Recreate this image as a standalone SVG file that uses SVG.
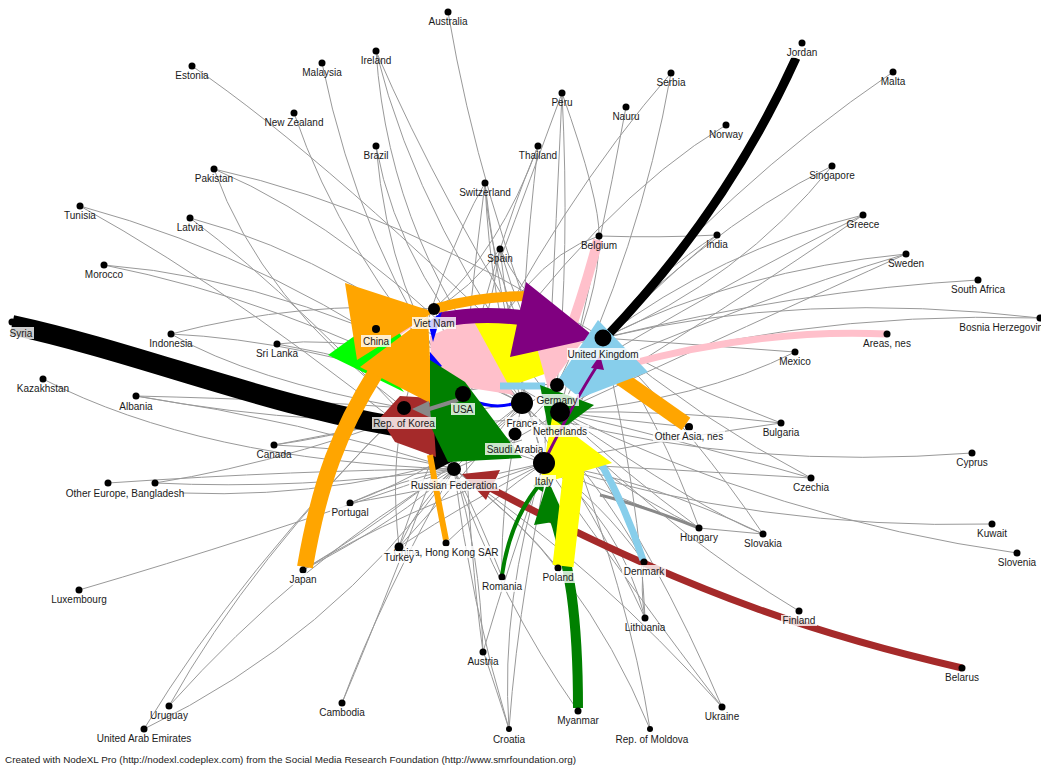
<svg xmlns="http://www.w3.org/2000/svg" width="1041" height="767" viewBox="0 0 1041 767">
<style>
.e{fill:none;stroke:#999;stroke-width:1}
.b{fill:none;stroke-linecap:butt}
.d{fill:#000}
.lb{font-family:"Liberation Sans",Arial,sans-serif;font-size:10px;fill:#1a1a1a;text-anchor:middle}
.bg{fill:#fff;fill-opacity:.8}
.ft{font-family:"Liberation Sans",Arial,sans-serif;font-size:9.9px;fill:#1a1a1a}
</style>
<rect width="1041" height="767" fill="#fff"/>
<g id="connectors">
<g id="gray-edges">
<path class="e" d="M448,12 Q480,200 557,385"/>
<path class="e" d="M376,51 Q390,250 522,403"/>
<path class="e" d="M376,51 Q420,230 560,412"/>
<path class="e" d="M376,51 Q440,200 557,385"/>
<path class="e" d="M322,63 Q360,250 463,394"/>
<path class="e" d="M192,66 Q330,160 557,385"/>
<path class="e" d="M294,113 Q340,250 463,394"/>
<path class="e" d="M376,146 Q390,300 463,394"/>
<path class="e" d="M376,146 Q400,280 522,403"/>
<path class="e" d="M214,169 Q400,210 603,338"/>
<path class="e" d="M214,169 Q360,230 522,403"/>
<path class="e" d="M214,169 Q260,300 404,408"/>
<path class="e" d="M485,183 Q490,300 522,403"/>
<path class="e" d="M485,183 Q470,300 463,394"/>
<path class="e" d="M485,183 Q500,320 544,463"/>
<path class="e" d="M485,183 Q440,260 404,408"/>
<path class="e" d="M485,183 Q492,300 557,385"/>
<path class="e" d="M80,206 Q280,260 463,394"/>
<path class="e" d="M80,206 Q250,300 454,469"/>
<path class="e" d="M190,218 Q350,260 522,403"/>
<path class="e" d="M190,218 Q300,300 454,469"/>
<path class="e" d="M500,249 Q520,320 557,385"/>
<path class="e" d="M500,249 Q490,320 463,394"/>
<path class="e" d="M500,249 Q540,330 603,338"/>
<path class="e" d="M500,249 Q510,350 544,463"/>
<path class="e" d="M500,249 Q470,290 434,309"/>
<path class="e" d="M104,265 Q300,280 522,403"/>
<path class="e" d="M104,265 Q280,300 463,394"/>
<path class="e" d="M671,73 Q560,200 463,394"/>
<path class="e" d="M671,73 Q640,250 560,412"/>
<path class="e" d="M893,72 Q720,190 603,338"/>
<path class="e" d="M562,93 Q570,250 557,385"/>
<path class="e" d="M562,93 Q555,250 544,463"/>
<path class="e" d="M562,93 Q530,180 500,260"/>
<path class="e" d="M562,93 Q600,200 599,236"/>
<path class="e" d="M626,107 Q600,250 560,412"/>
<path class="e" d="M726,125 Q600,200 463,394"/>
<path class="e" d="M538,146 Q500,250 434,309"/>
<path class="e" d="M538,146 Q490,260 463,394"/>
<path class="e" d="M538,146 Q520,300 522,403"/>
<path class="e" d="M832,166 Q700,230 557,385"/>
<path class="e" d="M832,166 Q740,280 603,338"/>
<path class="e" d="M863,215 Q720,250 603,338"/>
<path class="e" d="M863,215 Q730,280 557,385"/>
<path class="e" d="M863,215 Q740,300 560,412"/>
<path class="e" d="M717,235 Q660,270 603,338"/>
<path class="e" d="M717,235 Q640,300 557,385"/>
<path class="e" d="M599,236 Q600,300 557,385"/>
<path class="e" d="M599,236 Q660,238 717,235"/>
<path class="e" d="M599,236 Q520,260 463,394"/>
<path class="e" d="M906,254 Q740,270 603,338"/>
<path class="e" d="M906,254 Q750,300 557,385"/>
<path class="e" d="M906,254 Q760,320 560,412"/>
<path class="e" d="M978,280 Q800,290 603,338"/>
<path class="e" d="M1040,318 Q800,290 603,338"/>
<path class="e" d="M1040,318 Q780,310 557,385"/>
<path class="e" d="M795,352 Q700,345 603,338"/>
<path class="e" d="M795,352 Q700,400 560,412"/>
<path class="e" d="M689,427 Q620,420 560,412"/>
<path class="e" d="M781,423 Q680,410 560,412"/>
<path class="e" d="M781,423 Q670,380 603,338"/>
<path class="e" d="M781,423 Q660,440 544,463"/>
<path class="e" d="M972,453 Q750,470 557,420"/>
<path class="e" d="M811,478 Q680,440 560,412"/>
<path class="e" d="M811,478 Q680,470 544,463"/>
<path class="e" d="M811,478 Q700,420 603,338"/>
<path class="e" d="M992,524 Q760,530 544,463"/>
<path class="e" d="M1017,553 Q780,520 560,412"/>
<path class="e" d="M699,528 Q620,470 560,412"/>
<path class="e" d="M699,528 Q620,500 544,463"/>
<path class="e" d="M699,528 Q660,420 603,338"/>
<path class="e" d="M699,528 Q600,480 522,403"/>
<path class="e" d="M699,528 L763,534"/>
<path d="M699,528 Q640,505 600,495" fill="none" stroke="#888" stroke-width="3"/>
<path class="e" d="M763,534 Q700,440 603,338"/>
<path class="e" d="M763,534 Q650,480 544,463"/>
<path class="e" d="M763,534 Q700,510 560,412"/>
<path class="e" d="M644,562 Q600,500 544,463"/>
<path class="e" d="M644,562 Q600,480 522,403"/>
<path class="e" d="M799,611 Q680,540 557,420"/>
<path class="e" d="M645,618 Q620,520 544,463"/>
<path class="e" d="M645,618 Q600,520 522,403"/>
<path class="e" d="M645,618 Q640,500 603,338"/>
<path class="e" d="M645,618 Q640,590 644,562"/>
<path class="e" d="M722,707 Q640,600 544,463"/>
<path class="e" d="M722,707 Q660,560 560,412"/>
<path class="e" d="M722,707 Q600,570 454,469"/>
<path class="e" d="M650,729 Q630,600 560,412"/>
<path class="e" d="M650,729 Q580,560 454,469"/>
<path class="e" d="M578,711 Q500,600 454,469"/>
<path class="e" d="M509,729 Q500,600 544,463"/>
<path class="e" d="M509,729 Q470,600 454,469"/>
<path class="e" d="M509,729 Q520,580 560,412"/>
<path class="e" d="M509,729 Q480,640 483,652"/>
<path class="e" d="M483,652 Q480,550 454,469"/>
<path class="e" d="M483,652 Q510,560 544,463"/>
<path class="e" d="M483,652 Q470,560 463,394"/>
<path class="e" d="M502,577 Q480,520 454,469"/>
<path class="e" d="M502,577 Q500,500 522,403"/>
<path class="e" d="M558,568 Q520,520 454,469"/>
<path class="e" d="M342,703 Q380,600 454,469"/>
<path class="e" d="M342,703 Q390,590 463,394"/>
<path class="e" d="M169,706 Q250,560 404,408"/>
<path class="e" d="M169,706 Q300,560 454,469"/>
<path class="e" d="M144,729 Q240,570 404,408"/>
<path class="e" d="M144,729 Q330,640 454,469"/>
<path class="e" d="M79,590 Q250,540 454,469"/>
<path class="e" d="M303,570 Q400,520 454,469"/>
<path class="e" d="M303,570 Q420,500 522,403"/>
<path class="e" d="M303,570 Q400,510 544,463"/>
<path class="e" d="M350,503 Q400,480 454,469"/>
<path class="e" d="M350,503 Q440,470 522,403"/>
<path class="e" d="M350,503 Q430,490 544,463"/>
<path class="e" d="M399,547 Q420,500 454,469"/>
<path class="e" d="M399,547 Q460,480 522,403"/>
<path class="e" d="M399,547 Q470,500 544,463"/>
<path class="e" d="M399,547 Q420,480 463,394"/>
<path class="e" d="M399,547 Q390,470 404,408"/>
<path class="e" d="M446,543 Q490,500 544,463"/>
<path class="e" d="M108,483 Q300,470 454,469"/>
<path class="e" d="M155,483 Q300,460 463,394"/>
<path class="e" d="M155,483 Q300,490 454,469"/>
<path class="e" d="M182,493 Q350,500 522,440"/>
<path class="e" d="M274,445 Q380,430 463,394"/>
<path class="e" d="M274,445 Q380,450 454,469"/>
<path class="e" d="M274,445 Q400,420 522,403"/>
<path class="e" d="M136,396 Q300,420 454,469"/>
<path class="e" d="M136,396 Q300,400 404,408"/>
<path class="e" d="M136,396 Q320,430 522,420"/>
<path class="e" d="M43,379 Q200,460 454,469"/>
<path class="e" d="M171,334 Q300,300 434,309"/>
<path class="e" d="M171,334 Q300,340 463,394"/>
<path class="e" d="M171,334 Q250,380 404,408"/>
<path class="e" d="M277,344 Q370,360 463,394"/>
<path class="e" d="M277,344 Q380,330 522,403"/>
<path class="e" d="M463,394 Q530,350 603,338"/>
<path class="e" d="M404,408 Q480,380 557,385"/>
<path class="e" d="M454,469 Q500,420 557,385"/>
<path class="e" d="M434,309 Q520,330 603,338"/>
<path class="e" d="M376,329 Q480,360 560,412"/>
<path class="e" d="M404,408 Q470,440 544,463"/>
<path class="e" d="M454,469 Q500,450 560,412"/>
<path class="e" d="M515,434 Q560,390 603,338"/>
<path class="e" d="M463,394 Q500,440 544,463"/>
<path class="e" d="M376,329 Q420,380 454,469"/>
<path class="e" d="M434,309 Q470,380 454,469"/>
<path class="e" d="M603,338 Q590,400 544,463"/>
<path class="e" d="M434,309 Q500,360 522,403"/>
</g>
<g id="colored-edges">
<path class="b" d="M12,325 C150,355 280,412 432,432" stroke="#000" stroke-width="20"/>
<polygon points="428,400 430,473 494,440" fill="#000"/>
<path class="b" d="M796,58 Q726,212 607,336" stroke="#000" stroke-width="9"/>
<polygon points="380,418 400,396 432,398 436,457 395,442" fill="#a52a2a"/>
<path class="b" d="M962,668 C840,640 700,600 490,488" stroke="#a52a2a" stroke-width="7"/>
<polygon points="462,474 500,470 486,500" fill="#a52a2a"/>
<path class="b" d="M887,334 Q760,328 622,366" stroke="#ffc0cb" stroke-width="7"/>
<path class="b" d="M598,240 Q585,290 565,345" stroke="#ffc0cb" stroke-width="10"/>
<polygon points="445,325 530,310 550,372 505,388 470,355" fill="#ffff00"/>
<polygon points="532,330 582,342 548,388" fill="#ffc0cb"/>
<polygon points="472,318 514,395 432,382 430,336" fill="#ffc0cb"/>
<path class="b" d="M420,318 L395,336" stroke="#ffc0cb" stroke-width="5"/>
<polygon points="328,355 360,332 404,392" fill="#00ff00"/>
<path class="b" d="M400,334 L362,360" stroke="#00ff00" stroke-width="9"/>
<path class="b" d="M686,424 L612,372" stroke="#ffa500" stroke-width="15"/>
<path class="b" d="M305,567 C320,480 340,430 376,372" stroke="#ffa500" stroke-width="16"/>
<polygon points="428,316 360,367 432,404" fill="#ffa500"/>
<polygon points="345,283 434,312 357,360" fill="#ffa500"/>
<path class="b" d="M438,308 Q480,296 528,296" stroke="#ffa500" stroke-width="10"/>
<path class="b" d="M446,540 Q438,500 430,455" stroke="#ffa500" stroke-width="6"/>
<path class="b" d="M440,320 Q480,312 525,318" stroke="#800080" stroke-width="15"/>
<polygon points="526,282 510,357 596,338" fill="#800080"/>
<polygon points="598,320 648,372 580,398 558,380" fill="#87ceeb"/>
<path class="b" d="M500,386 L545,386" stroke="#87ceeb" stroke-width="7"/>
<path class="b" d="M643,560 Q625,505 598,458" stroke="#87ceeb" stroke-width="7"/>
<polygon points="428,322 442,312 433,342" fill="#0000ff"/>
<polygon points="430,352 442,366 430,374" fill="#0000ff"/>
<path class="b" d="M470,400 Q495,410 515,403" stroke="#0000ff" stroke-width="3"/>
<polygon points="430,360 465,382 522,458 448,462 430,425" fill="#008000"/>
<polygon points="540,385 594,405 550,438" fill="#008000"/>
<path class="b" d="M578,708 C578,620 570,560 550,505" stroke="#008000" stroke-width="10"/>
<polygon points="548,480 534,525 566,520" fill="#008000"/>
<path class="b" d="M502,575 Q510,520 540,484" stroke="#008000" stroke-width="4"/>
<polygon points="545,476 533,486 543,492" fill="#008000"/>
<path class="b" d="M563,566 L574,470" stroke="#ffff00" stroke-width="21"/>
<polygon points="552,418 612,463 540,484" fill="#ffff00"/>
<path class="b" d="M546,458 Q575,400 597,366" stroke="#800080" stroke-width="3"/>
<polygon points="600,355 591,368 604,370" fill="#800080"/>
<path class="b" d="M458,400 L426,410" stroke="#888" stroke-width="4"/>
<polygon points="412,409 429,401 431,418" fill="#888"/>
</g>
</g>
<g id="nodes">
<g id="n-australia"><circle class="d" cx="448" cy="12" r="3.5"/><text class="lb" x="448" y="25">Australia</text></g>
<g id="n-ireland"><circle class="d" cx="376" cy="51" r="3.5"/><text class="lb" x="376" y="64">Ireland</text></g>
<g id="n-malaysia"><circle class="d" cx="322" cy="63" r="3.5"/><text class="lb" x="322" y="76">Malaysia</text></g>
<g id="n-estonia"><circle class="d" cx="192" cy="66" r="3.5"/><text class="lb" x="192" y="79">Estonia</text></g>
<g id="n-newzealand"><circle class="d" cx="294" cy="113" r="3.5"/><text class="lb" x="294" y="126">New Zealand</text></g>
<g id="n-brazil"><circle class="d" cx="376" cy="146" r="3.5"/><text class="lb" x="376" y="159">Brazil</text></g>
<g id="n-pakistan"><circle class="d" cx="214" cy="169" r="3.5"/><text class="lb" x="214" y="182">Pakistan</text></g>
<g id="n-switzerland"><circle class="d" cx="485" cy="183" r="3.5"/><text class="lb" x="485" y="196">Switzerland</text></g>
<g id="n-tunisia"><circle class="d" cx="80" cy="206" r="3.5"/><text class="lb" x="80" y="219">Tunisia</text></g>
<g id="n-latvia"><circle class="d" cx="190" cy="218" r="3.5"/><text class="lb" x="190" y="231">Latvia</text></g>
<g id="n-spain"><circle class="d" cx="500" cy="249" r="3.5"/><text class="lb" x="500" y="262">Spain</text></g>
<g id="n-morocco"><circle class="d" cx="104" cy="265" r="3.5"/><text class="lb" x="104" y="278">Morocco</text></g>
<g id="n-jordan"><circle class="d" cx="802" cy="43" r="3.5"/><rect class="bg" x="785" y="47" width="34" height="11"/><text class="lb" x="802" y="56">Jordan</text></g>
<g id="n-serbia"><circle class="d" cx="671" cy="73" r="3.5"/><text class="lb" x="671" y="86">Serbia</text></g>
<g id="n-malta"><circle class="d" cx="893" cy="72" r="3.5"/><text class="lb" x="893" y="85">Malta</text></g>
<g id="n-peru"><circle class="d" cx="562" cy="93" r="3.5"/><text class="lb" x="562" y="106">Peru</text></g>
<g id="n-nauru"><circle class="d" cx="626" cy="107" r="3.5"/><text class="lb" x="626" y="120">Nauru</text></g>
<g id="n-norway"><circle class="d" cx="726" cy="125" r="3.5"/><text class="lb" x="726" y="138">Norway</text></g>
<g id="n-thailand"><circle class="d" cx="538" cy="146" r="3.5"/><text class="lb" x="538" y="159">Thailand</text></g>
<g id="n-singapore"><circle class="d" cx="832" cy="166" r="3.5"/><text class="lb" x="832" y="179">Singapore</text></g>
<g id="n-greece"><circle class="d" cx="863" cy="215" r="3.5"/><text class="lb" x="863" y="228">Greece</text></g>
<g id="n-india"><circle class="d" cx="717" cy="235" r="3.5"/><text class="lb" x="717" y="248">India</text></g>
<g id="n-belgium"><circle class="d" cx="599" cy="236" r="3.5"/><text class="lb" x="599" y="249">Belgium</text></g>
<g id="n-sweden"><circle class="d" cx="906" cy="254" r="3.5"/><text class="lb" x="906" y="267">Sweden</text></g>
<g id="n-southafrica"><circle class="d" cx="978" cy="280" r="3.5"/><text class="lb" x="978" y="293">South Africa</text></g>
<g id="n-bosnia"><circle class="d" cx="1040" cy="318" r="3.5"/><text class="lb" x="1004" y="331">Bosnia Herzegovina</text></g>
<g id="n-areas"><circle class="d" cx="887" cy="334" r="3.5"/><text class="lb" x="887" y="347">Areas, nes</text></g>
<g id="n-mexico"><circle class="d" cx="795" cy="352" r="3.5"/><text class="lb" x="795" y="365">Mexico</text></g>
<g id="n-bulgaria"><circle class="d" cx="781" cy="423" r="3.5"/><text class="lb" x="781" y="436">Bulgaria</text></g>
<g id="n-cyprus"><circle class="d" cx="972" cy="453" r="3.5"/><text class="lb" x="972" y="466">Cyprus</text></g>
<g id="n-czechia"><circle class="d" cx="811" cy="478" r="3.5"/><text class="lb" x="811" y="491">Czechia</text></g>
<g id="n-kuwait"><circle class="d" cx="992" cy="524" r="3.5"/><text class="lb" x="992" y="537">Kuwait</text></g>
<g id="n-slovenia"><circle class="d" cx="1017" cy="553" r="3.5"/><text class="lb" x="1017" y="566">Slovenia</text></g>
<g id="n-hungary"><circle class="d" cx="699" cy="528" r="3.5"/><text class="lb" x="699" y="541">Hungary</text></g>
<g id="n-slovakia"><circle class="d" cx="763" cy="534" r="3.5"/><text class="lb" x="763" y="547">Slovakia</text></g>
<g id="n-finland"><circle class="d" cx="799" cy="611" r="3.5"/><rect class="bg" x="781" y="615" width="36" height="11"/><text class="lb" x="799" y="624">Finland</text></g>
<g id="n-belarus"><circle class="d" cx="962" cy="668" r="3.5"/><text class="lb" x="962" y="681">Belarus</text></g>
<g id="n-lithuania"><circle class="d" cx="645" cy="618" r="3.5"/><text class="lb" x="645" y="631">Lithuania</text></g>
<g id="n-ukraine"><circle class="d" cx="722" cy="707" r="3.5"/><text class="lb" x="722" y="720">Ukraine</text></g>
<g id="n-moldova"><circle class="d" cx="650" cy="729" r="3"/><rect class="bg" x="617" y="733" width="72" height="12"/><text class="lb" x="652" y="743">Rep. of Moldova</text></g>
<g id="n-myanmar"><circle class="d" cx="578" cy="711" r="3.5"/><text class="lb" x="578" y="724">Myanmar</text></g>
<g id="n-croatia"><circle class="d" cx="509" cy="729" r="3"/><rect class="bg" x="490" y="733" width="38" height="12"/><text class="lb" x="509" y="743">Croatia</text></g>
<g id="n-austria"><circle class="d" cx="483" cy="652" r="3.5"/><text class="lb" x="483" y="665">Austria</text></g>
<g id="n-cambodia"><circle class="d" cx="342" cy="703" r="3.5"/><text class="lb" x="342" y="716">Cambodia</text></g>
<g id="n-uruguay"><circle class="d" cx="169" cy="706" r="3.5"/><text class="lb" x="169" y="719">Uruguay</text></g>
<g id="n-uae"><circle class="d" cx="144" cy="729" r="3.5"/><text class="lb" x="144" y="742">United Arab Emirates</text></g>
<g id="n-luxembourg"><circle class="d" cx="79" cy="590" r="3.5"/><text class="lb" x="79" y="603">Luxembourg</text></g>
<g id="n-japan"><circle class="d" cx="303" cy="570" r="3.5"/><rect class="bg" x="287" y="573" width="32" height="12"/><text class="lb" x="303" y="583">Japan</text></g>
<g id="n-portugal"><circle class="d" cx="350" cy="503" r="3.5"/><rect class="bg" x="330" y="506" width="40" height="12"/><text class="lb" x="350" y="516">Portugal</text></g>
<g id="n-otherasia"><circle class="d" cx="689" cy="427" r="4"/><rect class="bg" x="653" y="430" width="72" height="12"/><text class="lb" x="689" y="440">Other Asia, nes</text></g>
<g id="n-denmark"><circle class="d" cx="644" cy="562" r="3.5"/><rect class="bg" x="622" y="565" width="44" height="12"/><text class="lb" x="644" y="575">Denmark</text></g>
<g id="n-romania"><circle class="d" cx="502" cy="577" r="3.5"/><rect class="bg" x="480" y="580" width="44" height="12"/><text class="lb" x="502" y="590">Romania</text></g>
<g id="n-poland"><circle class="d" cx="558" cy="568" r="3.5"/><rect class="bg" x="541" y="571" width="35" height="12"/><text class="lb" x="558" y="581">Poland</text></g>
<g id="n-hongkong"><circle class="d" cx="446" cy="543" r="3.5"/><rect class="bg" x="391" y="546" width="110" height="12"/><text class="lb" x="446" y="556">China, Hong Kong SAR</text></g>
<g id="n-turkey"><circle class="d" cx="399" cy="547" r="4.5"/><rect class="bg" x="382" y="551" width="34" height="12"/><text class="lb" x="399" y="561">Turkey</text></g>
<g id="n-othereurope"><circle class="d" cx="108" cy="483" r="3.5"/><circle class="d" cx="155" cy="483" r="3.5"/><text class="lb" x="125" y="497">Other Europe, Bangladesh</text></g>
<g id="n-canada"><circle class="d" cx="274" cy="445" r="3.5"/><text class="lb" x="274" y="458">Canada</text></g>
<g id="n-albania"><circle class="d" cx="136" cy="396" r="3.5"/><text class="lb" x="136" y="410">Albania</text></g>
<g id="n-kazakhstan"><circle class="d" cx="43" cy="379" r="3.5"/><text class="lb" x="43" y="392">Kazakhstan</text></g>
<g id="n-indonesia"><circle class="d" cx="171" cy="334" r="3.5"/><text class="lb" x="171" y="347">Indonesia</text></g>
<g id="n-srilanka"><circle class="d" cx="277" cy="344" r="3.5"/><text class="lb" x="277" y="357">Sri Lanka</text></g>
<g id="n-syria"><circle class="d" cx="12" cy="322" r="3.5"/><rect class="bg" x="9" y="327" width="25" height="12"/><text class="lb" x="21" y="337">Syria</text></g>
<g id="n-china"><circle class="d" cx="376" cy="329" r="4"/><rect class="bg" x="361" y="335" width="30" height="12"/><text class="lb" x="376" y="345">China</text></g>
<g id="n-vietnam"><circle class="d" cx="434" cy="309" r="6"/><rect class="bg" x="412" y="317" width="44" height="12"/><text class="lb" x="434" y="327">Viet Nam</text></g>
<g id="n-uk"><circle class="d" cx="603" cy="338" r="8.5"/><rect class="bg" x="567" y="348" width="73" height="12"/><text class="lb" x="603" y="358">United Kingdom</text></g>
<g id="n-usa"><circle class="d" cx="463" cy="394" r="8"/><rect class="bg" x="451" y="403" width="24" height="12"/><text class="lb" x="463" y="413">USA</text></g>
<g id="n-germany"><circle class="d" cx="557" cy="385" r="7"/><rect class="bg" x="535" y="394" width="44" height="12"/><text class="lb" x="557" y="404">Germany</text></g>
<g id="n-france"><circle class="d" cx="522" cy="403" r="11"/><rect class="bg" x="505" y="417" width="34" height="12"/><text class="lb" x="522" y="427">France</text></g>
<g id="n-netherlands"><circle class="d" cx="560" cy="412" r="10"/><rect class="bg" x="531" y="425" width="58" height="12"/><text class="lb" x="560" y="435">Netherlands</text></g>
<g id="n-korea"><circle class="d" cx="404" cy="408" r="7"/><rect class="bg" x="372" y="417" width="64" height="12"/><text class="lb" x="404" y="427">Rep. of Korea</text></g>
<g id="n-saudi"><circle class="d" cx="515" cy="434" r="6.5"/><rect class="bg" x="485" y="443" width="60" height="12"/><text class="lb" x="515" y="453">Saudi Arabia</text></g>
<g id="n-italy"><circle class="d" cx="544" cy="463" r="11"/><rect class="bg" x="532" y="475" width="24" height="12"/><text class="lb" x="544" y="485">Italy</text></g>
<g id="n-russia"><circle class="d" cx="454" cy="469" r="7"/><rect class="bg" x="409" y="479" width="90" height="12"/><text class="lb" x="454" y="489">Russian Federation</text></g>
</g>
<text class="ft" x="5" y="763">Created with NodeXL Pro (http://nodexl.codeplex.com) from the Social Media Research Foundation (http://www.smrfoundation.org)</text>
</svg>
